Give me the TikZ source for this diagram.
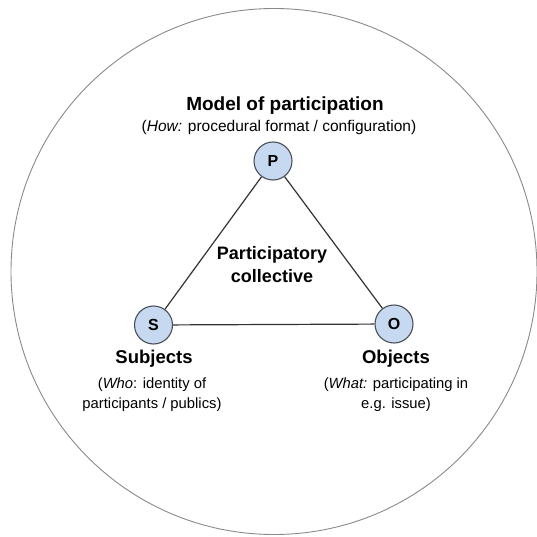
\documentclass[tikz,border=0pt]{standalone}
\usepackage{fontspec}
\setmainfont{Liberation Sans}
\definecolor{nodefill}{HTML}{C6D9F1}
\definecolor{nodeline}{HTML}{4A4F58}
\definecolor{ringgray}{HTML}{8A8A8A}
\begin{document}
\begin{tikzpicture}[x=1pt,y=-1pt,
  vert/.style={circle,draw=nodeline,fill=nodefill,line width=1.1pt,minimum size=38pt,inner sep=0pt,font=\fontsize{16}{16}\selectfont\bfseries},
  edge/.style={draw=black!80,line width=1.2pt},
  title/.style={font=\fontsize{18.5}{22}\selectfont\bfseries,align=center},
  sub/.style={font=\fontsize{14.8}{19.5}\selectfont,align=center}]
\useasboundingbox (0,0) rectangle (537,537);
\draw[ringgray,line width=0.9pt] (274,271.5) circle (263);
\node[vert] (P) at (273,161) {P};
\node[vert] (S) at (153.5,325) {S};
\node[vert] (O) at (394,324) {O};
\draw[edge] (P) -- (S);
\draw[edge] (P) -- (O);
\draw[edge] (S) -- (O);
\node[title,font=\fontsize{19}{22}\selectfont\bfseries] (mt) at (285,106) {Model of participation};
\node[sub,font=\fontsize{15.5}{19}\selectfont] (ms) at (279,127) {(\textit{How:} procedural format / configuration)};
\node[title,font=\fontsize{18}{23}\selectfont\bfseries] (pc) at (272,264.5) {Participatory\\collective};
\node[title] (st) at (154,359) {Subjects};
\node[sub] (ss) at (152,394.5) {(\textit{Who}: identity of\\participants / publics)};
\node[title] (ot) at (396,359) {Objects};
\node[sub] (os) at (396,394.5) {(\textit{What:} participating in\\e.g. issue)};
\end{tikzpicture}
\end{document}
